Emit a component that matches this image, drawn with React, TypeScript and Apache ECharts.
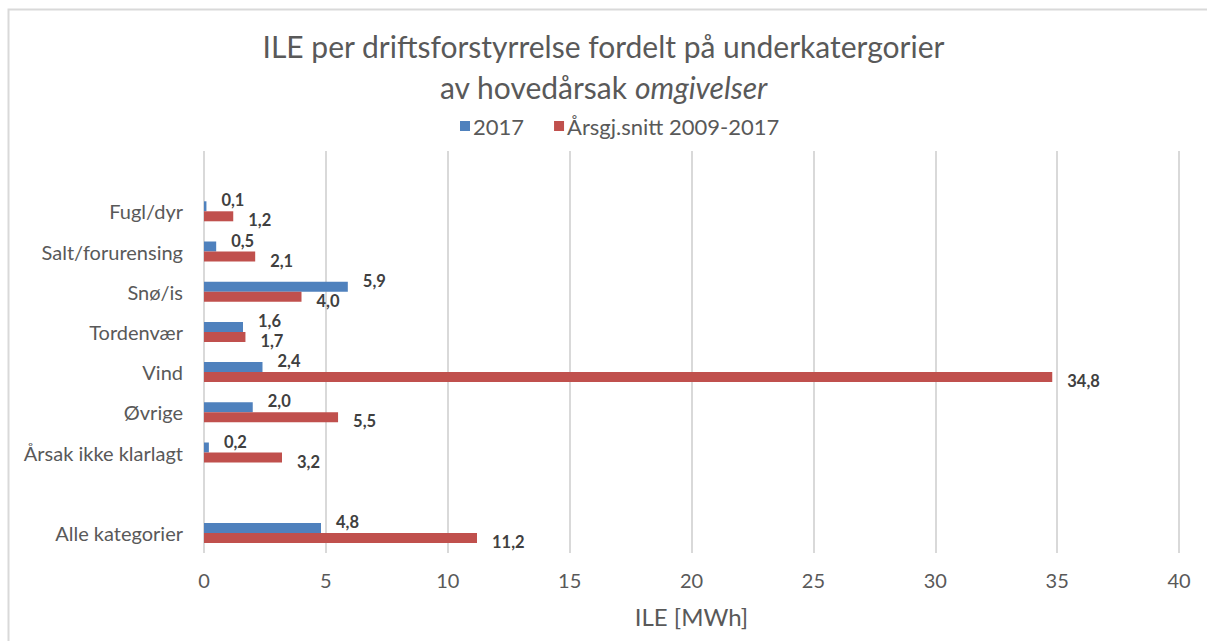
import React, { useEffect, useRef } from "react";
import * as echarts from "echarts";

const categories = [
  "",
  "Fugl/dyr",
  "Salt/forurensing",
  "Snø/is",
  "Tordenvær",
  "Vind",
  "Øvrige",
  "Årsak ikke klarlagt",
  "",
  "Alle kategorier",
];
const values2017 = [null, 0.1, 0.5, 5.9, 1.6, 2.4, 2.0, 0.2, null, 4.8];
const valuesAvg = [null, 1.2, 2.1, 4.0, 1.7, 34.8, 5.5, 3.2, null, 11.2];
const seriesNames = ["2017", "Årsgj.snitt 2009-2017"];
const xTicks = { min: 0, max: 40, interval: 5 };

const FONT = "Lato, 'Open Sans', sans-serif";
const GREY = "#595959";

export default function App() {
  const ref = useRef<HTMLDivElement>(null);
  useEffect(() => {
    if (!ref.current) return;
    const chart = echarts.init(ref.current, null, { renderer: "svg" });
    const fmt = (p: any) =>
      p.value == null ? "" : Number(p.value).toFixed(1).replace(".", ",");
    const labelBase = {
      show: true,
      position: "right",
      distance: 15,
      color: "#404040",
      fontWeight: "bold",
      fontSize: 16.5,
      lineHeight: 15,
      fontFamily: FONT,
      formatter: fmt,
    };
    chart.setOption({
      animation: false,
      backgroundColor: "#ffffff",
      textStyle: { fontFamily: FONT },
      title: {
        text: "ILE per driftsforstyrrelse fordelt på underkatergorier\nav hovedårsak {i|omgivelser}",
        left: "center",
        top: 20,
        textStyle: {
          fontSize: 30,
          fontWeight: "normal",
          color: GREY,
          fontFamily: FONT,
          lineHeight: 41,
          rich: {
            i: {
              fontSize: 30,
              fontStyle: "italic",
              color: GREY,
              fontFamily: FONT,
              lineHeight: 41,
            },
          },
        },
      },
      legend: {
        top: 110,
        left: 455,
        itemWidth: 10,
        itemHeight: 10,
        itemGap: 30,
        icon: "rect",
        textStyle: { fontSize: 22, color: GREY, fontFamily: FONT, padding: [0, 0, 0, -2] },
        data: seriesNames,
      },
      grid: { left: 204, right: 28, top: 151, bottom: 88, containLabel: false },
      xAxis: {
        type: "value",
        min: xTicks.min,
        max: xTicks.max,
        interval: xTicks.interval,
        name: "ILE [MWh]",
        nameLocation: "middle",
        nameGap: 51,
        nameTextStyle: { fontSize: 24, color: GREY, fontFamily: FONT },
        axisLine: { show: false },
        axisTick: { show: false },
        axisLabel: { fontSize: 20, color: GREY, margin: 17, fontFamily: FONT },
        splitLine: { show: true, lineStyle: { color: "#d9d9d9", width: 2 } },
      },
      yAxis: {
        type: "category",
        inverse: true,
        data: categories,
        axisLine: { show: false },
        axisTick: { show: false },
        axisLabel: { fontSize: 20, color: GREY, margin: 21, fontFamily: FONT },
        splitLine: { show: false },
      },
      series: [
        {
          name: seriesNames[0],
          type: "bar",
          data: values2017,
          barWidth: 10,
          barGap: "0%",
          itemStyle: { color: "#4f81bd" },
          label: { ...labelBase, offset: [0, -6] },
        },
        {
          name: seriesNames[1],
          type: "bar",
          data: valuesAvg,
          barWidth: 10,
          barGap: "0%",
          itemStyle: { color: "#c0504d" },
          label: { ...labelBase, offset: [0, 4] },
        },
      ],
      graphic: [
        {
          type: "rect",
          shape: { x: 8.5, y: 9.5, width: 1200, height: 640 },
          style: { fill: "none", stroke: "#d9d9d9", lineWidth: 2 },
          silent: true,
        },
      ],
    });
    return () => chart.dispose();
  }, []);
  return (
    <div
      ref={ref}
      style={{ position: "absolute", left: 0, top: 0, width: 1207, height: 641 }}
    />
  );
}
